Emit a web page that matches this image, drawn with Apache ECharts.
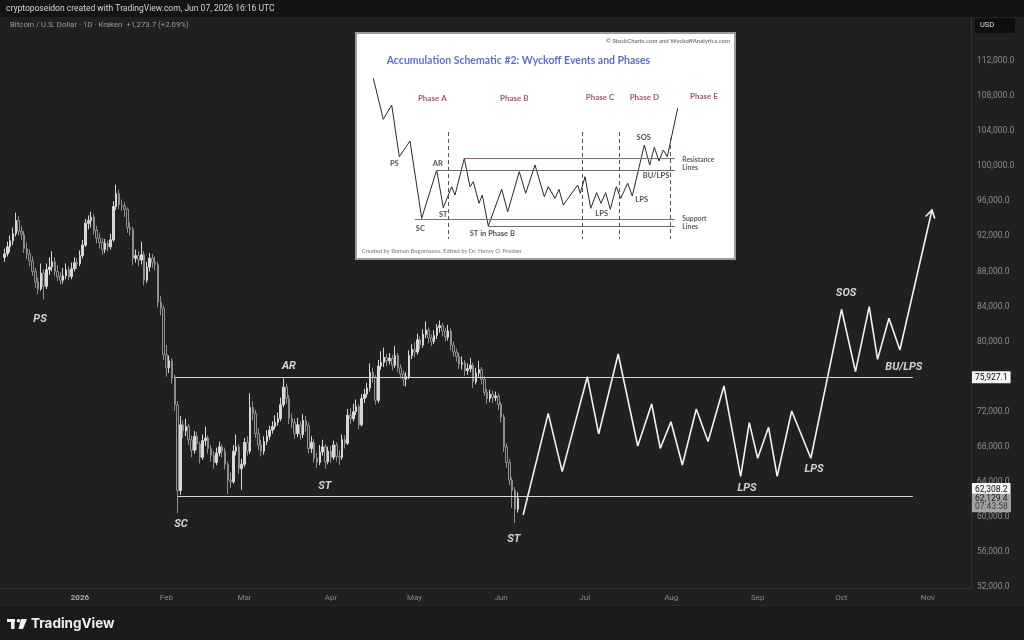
<!DOCTYPE html>
<html><head><meta charset="utf-8">
<script src="https://cdn.jsdelivr.net/npm/echarts@6.0.0/dist/echarts.min.js"></script>
<style>html,body{margin:0;padding:0;background:#1b1b1b;}#c{width:1024px;height:640px;}</style>
</head><body><div id="c"></div>
<script>
// ---------- DATA ----------
// Daily BTC/USD candles from this start date, one row per day: [open, close, low, high] in thousands of USD
const candleStart = '2025-12-05';
const ohlcK = [
 [89.6,90.0,89.1,90.6],[90.0,90.8,89.7,91.4],[90.8,91.5,90.2,92.1],[91.5,92.3,91.0,93.0],[92.3,93.8,92.0,94.7],
 [93.8,92.6,92.1,94.3],[92.6,92.2,91.6,93.2],[92.2,90.6,90.1,92.6],[90.6,90.0,89.4,91.3],[90.0,89.2,88.6,90.5],
 [89.2,88.0,87.5,89.7],[88.0,86.8,86.1,88.4],[86.8,86.0,85.4,87.3],[86.0,87.8,85.8,88.9],[87.8,86.3,84.8,88.2],
 [86.3,88.2,86.0,88.9],[88.2,88.5,87.6,89.6],[88.5,89.1,88.0,90.3],[89.1,88.0,87.5,89.6],[88.0,87.4,86.9,88.7],
 [87.4,87.0,86.5,87.9],[87.0,87.5,86.6,88.4],[87.5,88.2,87.1,88.9],[88.2,87.4,87.0,88.6],[87.4,88.3,87.1,89.0],
 [88.3,89.0,88.0,89.6],[89.0,88.9,88.3,89.5],[88.9,89.8,88.6,90.4],[89.8,91.0,89.5,91.6],[91.0,93.5,90.8,94.0],
 [93.5,93.8,92.8,94.4],[93.8,94.2,93.0,94.8],[94.2,92.7,92.2,94.5],[92.7,91.8,91.2,93.2],[91.8,91.3,90.6,92.4],
 [91.3,90.5,89.9,91.8],[90.5,91.2,90.1,91.7],[91.2,90.8,90.3,91.5],[90.8,91.6,90.5,92.3],[91.6,95.4,91.4,96.0],
 [95.4,96.9,95.0,97.9],[96.9,95.6,95.1,97.3],[95.6,95.5,94.9,96.2],[95.5,95.1,94.2,95.9],[95.1,93.0,92.4,95.3],
 [93.0,92.8,92.1,93.6],[92.8,89.5,88.7,93.1],[89.5,89.8,89.0,90.5],[89.8,89.3,88.6,90.3],[89.3,89.9,88.8,91.4],
 [89.9,87.0,86.4,90.3],[87.0,88.5,86.7,89.1],[88.5,89.5,88.0,90.1],[89.5,89.0,88.4,90.0],[89.0,88.8,88.1,89.7],
 [88.8,84.5,83.9,89.1],[84.5,83.8,83.0,85.2],[83.8,78.5,77.9,84.1],[78.5,77.0,76.0,79.6],[77.0,77.8,76.4,78.4],
 [77.8,75.8,75.2,78.1],[75.8,72.8,72.1,76.2],[72.8,63.0,60.4,73.2],[63.0,70.5,62.5,71.5],[70.5,69.8,69.0,71.0],
 [69.8,70.3,69.2,71.2],[70.3,68.8,68.2,70.6],[68.8,67.6,66.8,69.3],[67.6,69.2,67.2,69.8],[69.2,68.3,67.6,69.7],
 [68.3,66.8,66.1,68.6],[66.8,68.7,66.5,69.4],[68.7,69.0,68.1,70.3],[69.0,67.8,67.2,69.3],[67.8,67.0,66.3,68.2],
 [67.0,66.2,65.5,67.5],[66.2,67.3,65.9,67.9],[67.3,68.0,66.9,68.6],[68.0,67.5,66.8,68.3],[67.5,66.0,65.4,67.9],
 [66.0,64.2,62.6,66.3],[64.2,64.0,63.3,65.1],[64.0,67.5,63.8,68.2],[67.5,68.0,67.0,69.4],[68.0,65.5,64.9,68.3],
 [65.5,66.0,63.1,66.6],[66.0,68.5,65.7,69.0],[68.5,67.5,67.0,69.2],[67.5,72.5,67.2,74.1],[72.5,71.8,71.0,73.2],
 [71.8,69.5,69.0,72.2],[69.5,68.2,67.6,70.1],[68.2,67.5,66.9,68.8],[67.5,68.6,67.1,69.2],[68.6,69.2,68.2,69.9],
 [69.2,69.9,68.8,70.4],[69.9,70.3,69.5,70.9],[70.3,70.8,70.0,71.6],[70.8,71.2,70.4,71.9],[71.2,72.8,70.9,73.6],
 [72.8,74.8,72.5,75.8],[74.8,73.5,72.9,75.2],[73.5,71.2,70.6,73.9],[71.2,70.8,70.1,71.8],[70.8,69.5,68.9,71.2],
 [69.5,70.5,69.1,71.3],[70.5,69.4,68.8,70.9],[69.4,71.0,69.0,71.7],[71.0,70.4,69.7,71.5],[70.4,67.8,67.2,70.8],
 [67.8,68.5,67.3,69.2],[68.5,66.7,66.2,68.9],[66.7,66.2,65.6,67.3],[66.2,67.4,65.9,68.2],[67.4,68.0,67.0,68.8],
 [68.0,66.3,65.5,68.3],[66.3,67.5,66.0,68.0],[67.5,66.8,66.2,68.1],[66.8,68.2,66.5,68.7],[68.2,66.9,66.3,68.5],
 [66.9,66.8,65.9,67.6],[66.8,68.8,66.5,69.4],[68.8,68.4,67.8,69.3],[68.4,71.6,68.2,72.3],[71.6,71.2,70.6,72.4],
 [71.2,72.0,70.9,72.9],[72.0,72.6,71.6,73.4],[72.6,70.5,70.0,72.9],[70.5,73.5,70.3,74.0],[73.5,74.0,73.0,74.6],
 [74.0,74.7,73.6,75.3],[74.7,76.5,74.3,77.5],[76.5,75.9,75.3,77.0],[75.9,73.3,72.8,76.2],[73.3,77.2,73.0,77.9],
 [77.2,77.6,76.8,78.9],[77.6,78.2,77.1,79.3],[78.2,77.8,77.2,78.6],[77.8,78.1,77.4,78.7],[78.1,77.3,76.7,78.5],
 [77.3,78.4,77.0,79.5],[78.4,77.0,76.5,78.7],[77.0,76.3,75.8,77.4],[76.3,75.7,74.9,76.7],[75.7,76.0,74.9,76.5],
 [76.0,78.4,75.7,79.0],[78.4,79.1,78.0,79.7],[79.1,78.8,78.2,79.9],[78.8,80.2,78.5,80.9],[80.2,79.6,79.1,80.6],
 [79.6,80.8,79.3,81.4],[80.8,81.3,80.4,82.3],[81.3,80.4,79.8,81.6],[80.4,80.0,79.5,80.8],[80.0,80.7,79.7,81.3],
 [80.7,81.6,80.3,82.0],[81.6,81.8,81.0,82.4],[81.8,81.2,80.6,82.1],[81.2,80.5,80.0,81.6],[80.5,81.2,80.1,81.9],
 [81.2,79.6,79.0,81.5],[79.6,78.8,78.3,80.0],[78.8,78.3,77.7,79.2],[78.3,77.4,76.9,78.7],[77.4,77.6,76.8,78.3],
 [77.6,76.7,76.1,77.9],[76.7,76.9,76.2,77.5],[76.9,77.3,76.5,78.1],[77.3,75.4,74.7,77.6],[75.4,76.4,75.1,77.0],
 [76.4,76.8,76.0,77.8],[76.8,75.7,75.1,77.1],[75.7,74.2,73.8,76.0],[74.2,73.5,72.9,74.6],[73.5,74.0,73.1,74.5],
 [74.0,73.6,73.0,74.4],[73.6,73.8,73.2,74.3],[73.8,72.8,72.2,74.1],[72.8,71.4,70.8,73.1],[71.4,68.0,67.4,71.7],
 [68.0,66.2,65.6,68.4],[66.2,64.2,63.6,66.6],[64.2,63.0,61.0,64.5],[63.0,60.86,59.3,63.4],[60.86,62.1294,60.5,62.8]
];

// Projected Wyckoff path (dates, prices)
const pathDates = ['2026-06-08T22:00','2026-06-17T22:00','2026-06-22T22:00','2026-07-01T22:00','2026-07-06T00:00',
 '2026-07-13T00:00','2026-07-20T00:00','2026-07-25T00:00','2026-07-28T02:00','2026-07-31T22:00','2026-08-05T00:00',
 '2026-08-10T00:00','2026-08-14T05:00','2026-08-19T22:00','2026-08-25T22:00','2026-08-29T00:00','2026-09-01T00:00',
 '2026-09-04T22:00','2026-09-08T00:00','2026-09-13T05:00','2026-09-20T02:00','2026-10-01T02:00','2026-10-06T02:00',
 '2026-10-11T00:00','2026-10-14T00:00','2026-10-18T02:00','2026-10-22T00:00','2026-11-02T12:00'];
const pathPrices = [60220,71810,65160,75990,69460,78580,68090,72880,67820,70860,65920,72310,68590,74930,64630,
 70750,66690,70220,64630,72080,66690,83680,76570,83980,77970,82650,79040,95000];

// Horizontal range lines: [start date, end date, price]
const levelLines = [
 ['2026-02-04T00:00','2026-10-26T16:00',75927.1],
 ['2026-02-05T02:00','2026-10-26T16:00',62308.2]
];
const lastPrice = 62129.4;
const countdown = '07:43:58';

// Event labels on main chart: [date, price, text]
const eventLabels = [
 ['2025-12-17T17:00',82570,'PS'],['2026-03-16T22:00',77210,'AR'],['2026-02-06T05:00',59190,'SC'],
 ['2026-03-29T19:00',63530,'ST'],['2026-06-05T14:00',57480,'ST'],['2026-08-28T05:00',63300,'LPS'],
 ['2026-09-21T05:00',65470,'LPS'],['2026-10-02T17:00',85540,'SOS'],['2026-10-23T10:00',77100,'BU/LPS']
];

// Axis ticks
const priceTicks = [52000,56000,60000,64000,68000,72000,76000,80000,84000,88000,92000,96000,100000,104000,108000,112000];
const monthTicks = ['2026-01-01','2026-02-01','2026-03-01','2026-04-01','2026-05-01','2026-06-01','2026-07-01','2026-08-01','2026-09-01','2026-10-01','2026-11-01'];
const monthLabels = ['2026','Feb','Mar','Apr','May','Jun','Jul','Aug','Sep','Oct','Nov'];

// Inset schematic (coordinates in the schematic's own 379 x 226 frame, y downwards)
const schemX = [17.3,27.3,35.7,43.3,54,65.7,80.7,87.3,95.7,99,108.3,114,117.3,123,126.3,132.3,145.7,151.7,163.3,169.7,179,188.3,192.3,199,203,207.3,221.7,224.3,229,234.7,240.7,245,249.7,254.3,260.3,264.7,271.7,276.3,288.3,293.7,298.3,303,307.3,311.3,321.7];
const schemY = [45.3,86.3,72,123.7,108,185.3,137,174.7,153.7,162,125.3,153.7,148.7,170.3,162,193,156.3,178.7,138.7,160.3,132,163.7,153.7,165.3,156.3,172,152,160.3,143.7,175.3,159.7,170.3,159.7,176.3,153.7,165.3,150.3,163,112,132,114.3,128,117,123.7,75.3];
const schemLevels = [[108.3,125,319,'r'],[80,137.3,319,'g'],[59,186.3,319,'r'],[132.3,193.7,319,'g']];
const schemDividers = [[92.7,99,206],[226,99,206],[263,99,206],[314,105,206]];
const schemTexts = [
 [374,7.7,'© StockCharts.com and WyckoffAnalytics.com','copy'],
 [30.7,28,'Accumulation Schematic #2: Wyckoff Events and Phases','title'],
 [76.3,65.7,'Phase A','phase'],[158.3,65.3,'Phase B','phase'],[244,64.3,'Phase C','phase'],[288.3,64.3,'Phase D','phase'],[348,63.7,'Phase E','phase'],
 [38.3,131,'PS','ev'],[81.7,130.3,'AR','ev'],[87.3,181.3,'ST','ev'],[64.3,195.3,'SC','ev'],[136.3,201,'ST in Phase B','ev'],
 [245.7,181,'LPS','ev'],[287.7,104.7,'SOS','ev'],[300,142.7,'BU/LPS','ev'],[285.7,167,'LPS','ev'],
 [326.3,127,'Resistance','side'],[326.3,135.3,'Lines','side'],[326.3,186.3,'Support','side'],[326.3,194.3,'Lines','side'],
 [5.7,217.7,'Created by Roman Bogomazov. Edited by Dr. Henry O. Pruden','foot']
];

// ---------- BUILD ----------
const DAY = 86400000;
const t = s => Date.parse(s.length === 10 ? s + 'T00:00:00Z' : s + ':00Z');
const t0 = t(candleStart);
const candleData = ohlcK.map((r, i) => [t0 + i * DAY, r[0] * 1000, r[1] * 1000, r[2] * 1000, r[3] * 1000]);
const pathData = pathDates.map((d, i) => [t(d), pathPrices[i]]);
const fmt = v => Number(v).toLocaleString('en-US', {minimumFractionDigits: 1, maximumFractionDigits: 1});
const monthT = monthTicks.map(t);
const yMin = 51890, yMax = 117020;
const FONT = 'Roboto, "Noto Sans", sans-serif';

const styleFor = {
  copy: {align: 'right', fontSize: 6, fontWeight: 'bold', color: '#555'},
  title: {align: 'left', fontSize: 10.5, fontWeight: 'bold', color: '#3a4ab8'},
  phase: {align: 'center', fontSize: 8, fontWeight: 'bold', color: '#8a2a4a'},
  ev: {align: 'center', fontSize: 7.5, fontWeight: 'bold', color: '#1e1e1e'},
  side: {align: 'left', fontSize: 6.8, fontWeight: 'bold', color: '#333'},
  foot: {align: 'left', fontSize: 5.8, fontWeight: 'bold', color: '#777'}
};

const tagAxis = (values, rich, formatter) => ({
  type: 'value', gridIndex: 0, position: 'right', min: yMin, max: yMax,
  axisLine: {show: false}, axisTick: {show: false}, splitLine: {show: false},
  axisLabel: {customValues: values, margin: 1, verticalAlign: 'middle', align: 'left', formatter, rich, fontFamily: FONT}
});
// price tags stack like TradingView: anchors nudged so the two lower tags do not overlap
const upperTagNudge = 880, lowerTagNudge = -540;

const chart = echarts.init(document.getElementById('c'));
chart.setOption({
  animation: false,
  backgroundColor: '#202020',
  grid: [
    {left: 0, right: 53, top: 17, bottom: 52, show: false},
    {left: 356, top: 33, width: 379, height: 226, show: true, backgroundColor: '#ffffff', borderColor: '#9c9c9c', borderWidth: 2}
  ],
  xAxis: [
    {type: 'value', gridIndex: 0, min: t('2025-12-03T08:00'), max: t('2026-11-16T12:00'),
     axisLine: {show: true, onZero: false, lineStyle: {color: '#303030'}}, axisTick: {show: false}, splitLine: {show: false},
     axisLabel: {customValues: monthT, margin: 6, color: '#8a8a8a', fontSize: 8, fontFamily: FONT,
       formatter: v => { const i = monthT.findIndex(m => Math.abs(m - v) < DAY / 2); return i === 0 ? '{b|' + monthLabels[0] + '}' : (i >= 0 ? monthLabels[i] : ''); },
       rich: {b: {fontWeight: 'bold', color: '#a8a8a8', fontSize: 8, fontFamily: FONT}}}},
    {type: 'value', gridIndex: 1, min: 0, max: 379, show: false}
  ],
  yAxis: [
    {type: 'value', gridIndex: 0, position: 'right', min: yMin, max: yMax,
     axisLine: {show: true, lineStyle: {color: '#303030'}}, axisTick: {show: false}, splitLine: {show: false},
     axisLabel: {customValues: priceTicks, formatter: fmt, color: '#8c8c8c', fontSize: 8.5, margin: 6, align: 'left', fontFamily: FONT}},
    tagAxis([levelLines[0][2]], {w: {backgroundColor: '#f4f4f4', color: '#111', padding: [2, 3, 1, 3], fontSize: 8.5, fontFamily: FONT}}, v => '{w|' + fmt(v) + '}'),
    tagAxis([levelLines[1][2] + upperTagNudge], {w: {backgroundColor: '#f4f4f4', color: '#111', padding: [2, 3, 1, 3], fontSize: 8.5, fontFamily: FONT}}, v => '{w|' + fmt(levelLines[1][2]) + '}'),
    tagAxis([lastPrice + lowerTagNudge], {
      g: {backgroundColor: '#a3a3a3', color: '#1a1a1a', padding: [1, 3, 0, 3], lineHeight: 8.5, fontSize: 8.5, width: 33, fontFamily: FONT},
      h: {backgroundColor: '#a3a3a3', color: '#3a3a3a', padding: [0, 3, 1, 3], lineHeight: 8.5, fontSize: 8.5, width: 33, fontFamily: FONT}
    }, v => '{g|' + fmt(lastPrice) + '}\n{h|' + countdown + '}'),
    {type: 'value', gridIndex: 1, min: 0, max: 226, inverse: true, show: false}
  ],
  series: [
    {type: 'candlestick', xAxisIndex: 0, yAxisIndex: 0, data: candleData, barWidth: 2,
     itemStyle: {color: '#d8d8d8', color0: '#262626', borderColor: '#d8d8d8', borderColor0: '#8e8e8e', borderWidth: 1}},
    {type: 'line', xAxisIndex: 0, yAxisIndex: 0, data: pathData, symbol: 'none',
     lineStyle: {color: '#f2f2f2', width: 1.6},
     markLine: {symbol: 'none', silent: true, label: {show: false}, lineStyle: {color: '#d6d6d6', width: 1, type: 'solid'},
       data: levelLines.map(([a, b, p]) => [{coord: [t(a), p]}, {coord: [t(b), p]}])}},
    {type: 'custom', xAxisIndex: 0, yAxisIndex: 0, silent: true,
     data: [[pathData[pathData.length - 2][0], pathData[pathData.length - 2][1], pathData[pathData.length - 1][0], pathData[pathData.length - 1][1]]],
     encode: {x: [0, 2], y: [1, 3]},
     renderItem: (params, api) => {
       const a = api.coord([api.value(0), api.value(1)]);
       const b = api.coord([api.value(2), api.value(3)]);
       const ang = Math.atan2(b[1] - a[1], b[0] - a[0]);
       const L = 9, w = 0.55;
       const p1 = [b[0] - L * Math.cos(ang - w), b[1] - L * Math.sin(ang - w)];
       const p2 = [b[0] - L * Math.cos(ang + w), b[1] - L * Math.sin(ang + w)];
       return {type: 'polyline', shape: {points: [p1, b, p2]}, style: {stroke: '#f2f2f2', lineWidth: 1.6, fill: null}};
     }},
    {type: 'scatter', xAxisIndex: 0, yAxisIndex: 0, symbolSize: 0, silent: true,
     data: eventLabels.map(([d, p, s]) => ({value: [t(d), p], name: s})),
     label: {show: true, position: 'inside', formatter: '{b}', color: '#ffffff', fontSize: 11, fontWeight: 'bold', fontStyle: 'italic', fontFamily: FONT}},
    {type: 'line', xAxisIndex: 1, yAxisIndex: 4, data: schemX.map((x, i) => [x, schemY[i]]), symbol: 'none',
     lineStyle: {color: '#2a2a2a', width: 1},
     markLine: {symbol: 'none', silent: true, label: {show: false},
       data: schemLevels.map(([x1, y, x2, c]) => [{coord: [x1, y], lineStyle: {color: c === 'r' ? '#a1606e' : '#6a6a6a', width: 1, type: 'solid'}}, {coord: [x2, y]}])
         .concat(schemDividers.map(([x, y1, y2]) => [{coord: [x, y1], lineStyle: {color: '#555', width: 1, type: [4, 3]}}, {coord: [x, y2]}]))}},
    {type: 'scatter', xAxisIndex: 1, yAxisIndex: 4, symbolSize: 0, silent: true,
     data: schemTexts.map(([x, y, s, k]) => ({value: [x, y], name: s, label: Object.assign({}, styleFor[k])})),
     label: {show: true, position: 'inside', formatter: '{b}', verticalAlign: 'middle', fontFamily: 'Lato, "Noto Sans", sans-serif'}}
  ],
  graphic: [
    {type: 'rect', shape: {x: 0, y: 0, width: 1024, height: 17}, style: {fill: '#141414'}},
    {type: 'text', x: 6, y: 9, style: {text: 'cryptoposeidon created with TradingView.com, Jun 07, 2026 16:16 UTC', fill: '#d4d4d4', fontSize: 8.5, fontFamily: FONT, verticalAlign: 'middle'}},
    {type: 'text', x: 10, y: 25, style: {text: 'Bitcoin / U.S. Dollar · 1D · Kraken  +1,273.7 (+2.09%)', fill: '#9c9c9c', fontSize: 7.8, fontFamily: FONT, verticalAlign: 'middle'}},
    {type: 'rect', shape: {x: 975, y: 18, width: 40, height: 15, r: 2}, style: {fill: '#0f0f0f'}},
    {type: 'text', x: 980, y: 25.5, style: {text: 'USD', fill: '#dddddd', fontSize: 7.5, fontFamily: FONT, verticalAlign: 'middle'}},
    {type: 'rect', shape: {x: 0, y: 606, width: 1024, height: 34}, style: {fill: '#1a1a1a'}},
    {type: 'rect', shape: {x: 0, y: 605, width: 1024, height: 1}, style: {fill: '#2a2a2a'}},
    {type: 'rect', shape: {x: 7, y: 619, width: 8, height: 3}, style: {fill: '#f0f0f0'}},
    {type: 'rect', shape: {x: 11, y: 619, width: 3.5, height: 10}, style: {fill: '#f0f0f0'}},
    {type: 'circle', shape: {cx: 18.5, cy: 620.8, r: 1.8}, style: {fill: '#f0f0f0'}},
    {type: 'polygon', shape: {points: [[21, 619], [27, 619], [23, 629], [18.5, 629]]}, style: {fill: '#f0f0f0'}},
    {type: 'text', x: 31, y: 624, style: {text: 'TradingView', fill: '#f0f0f0', fontSize: 13.5, fontWeight: 'bold', fontFamily: 'Inter, Roboto, sans-serif', verticalAlign: 'middle'}}
  ]
});
</script>
</body></html>
